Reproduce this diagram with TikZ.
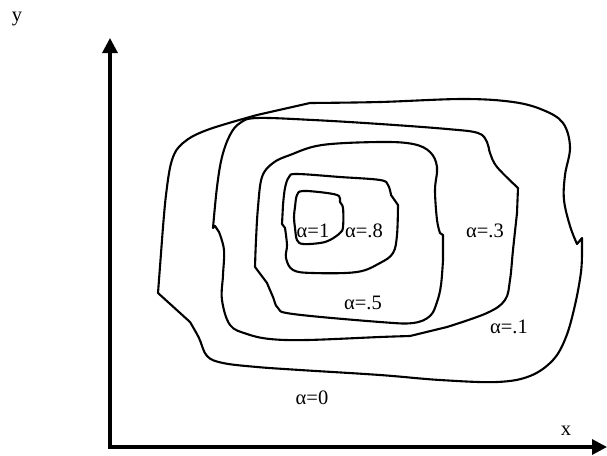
\documentclass[tikz,border=0pt]{standalone}
\usepackage{fontspec}
\setmainfont{Liberation Serif}
\usetikzlibrary{arrows.meta}

\begin{document}
\begin{tikzpicture}[x=1pt, y=-1pt,
    level/.style={line width=2.1pt, line join=round},
    axis/.style={line width=3.2pt, line join=miter, {Triangle[length=15pt, width=15pt]}-{Triangle[length=15pt, width=15pt]}},
    lbl/.style={font=\fontsize{20.5}{24}\selectfont, inner sep=0pt}]
  \useasboundingbox (0,0) rectangle (607,455);
  % axes
  \coordinate (origin) at (110,447);
  \coordinate (ytip) at (110,38);
  \coordinate (xtip) at (607,447);
  \draw[axis] (ytip) -- (origin) -- (xtip);
  \node[lbl] (ylbl) at (17,19) {y};
  \node[lbl] (xlbl) at (566,431) {x};
  % outer level curve
  \draw[level] plot[smooth, tension=.6] coordinates {(310,103) (380,102) (463,99) (513,102) (543,110) (563,123) (570,147) (565,175) (564,200) (570,226) (577,244)}
    -- (582,238) -- plot[smooth, tension=.6] coordinates {(582,250) (581,272) (575,305) (566,337) (553,360) (530,376) (497,382) (440,380) (380,375) (300,370) (257,367) (223,363) (207,356) (199,338) (190,322)}
    -- (158,293) -- plot[smooth, tension=.6] coordinates {(162,240) (166,195) (172,160) (183,143) (207,130) (257,115)} -- cycle;
  % alpha = .1
  \draw[level] plot[smooth, tension=.6] coordinates {(518,188) (497,167) (490,153) (487,142) (478,133) (447,129) (380,124) (313,120) (257,118) (240,123) (230,135) (222,157) (217,187) (213,228)}
    -- (215,226) -- plot[smooth, tension=.6] coordinates {(219,232) (224,250) (223,275) (222,300) (230,325) (247,334) (270,339) (307,340) (380,337) (410,336)}
    -- plot[smooth, tension=.6] coordinates {(447,327) (487,313) (505,300) (510,280) (513,250) (517,213)} -- cycle;
  % alpha = .3
  \draw[level] plot[smooth, tension=.6] coordinates {(255,267) (256,240) (258,207) (262,177) (273,163) (290,155) (322,145) (380,142) (413,144) (430,152) (437,167) (435,190) (437,220) (440,233)}
    -- (443,235) -- plot[smooth, tension=.6] coordinates {(443,260) (441,285) (437,302) (430,316) (413,323) (380,322) (293,314) (278,308) (273,297) (267,283)} -- cycle;
  % alpha = .5
  \draw[level] plot[smooth, tension=.6] coordinates {(398,205) (397,235) (393,253) (380,263) (357,272) (313,273) (293,270) (286,258) (287,245) (285,228)}
    -- (282,224) -- plot[smooth, tension=.6] coordinates {(283,205) (285,188) (289,177) (297,174) (340,177) (380,180) (388,185) (391,195)} -- cycle;
  % alpha = .8
  \draw[level] plot[smooth cycle, tension=.6] coordinates {(303,191) (327,193) (339,196) (340,202) (343,208) (343,227) (340,233) (330,240) (320,243) (303,244) (297,240) (295,228) (294,217) (295,207) (297,195)};
  % labels
  \node[lbl] (a1) at (313,231) {α=1};
  \node[lbl] (a8) at (364,231) {α=.8};
  \node[lbl] (a5) at (363,303) {α=.5};
  \node[lbl] (a3) at (485,231) {α=.3};
  \node[lbl] (a01) at (509,327) {α=.1};
  \node[lbl] (a0) at (312,398) {α=0};
\end{tikzpicture}
\end{document}
